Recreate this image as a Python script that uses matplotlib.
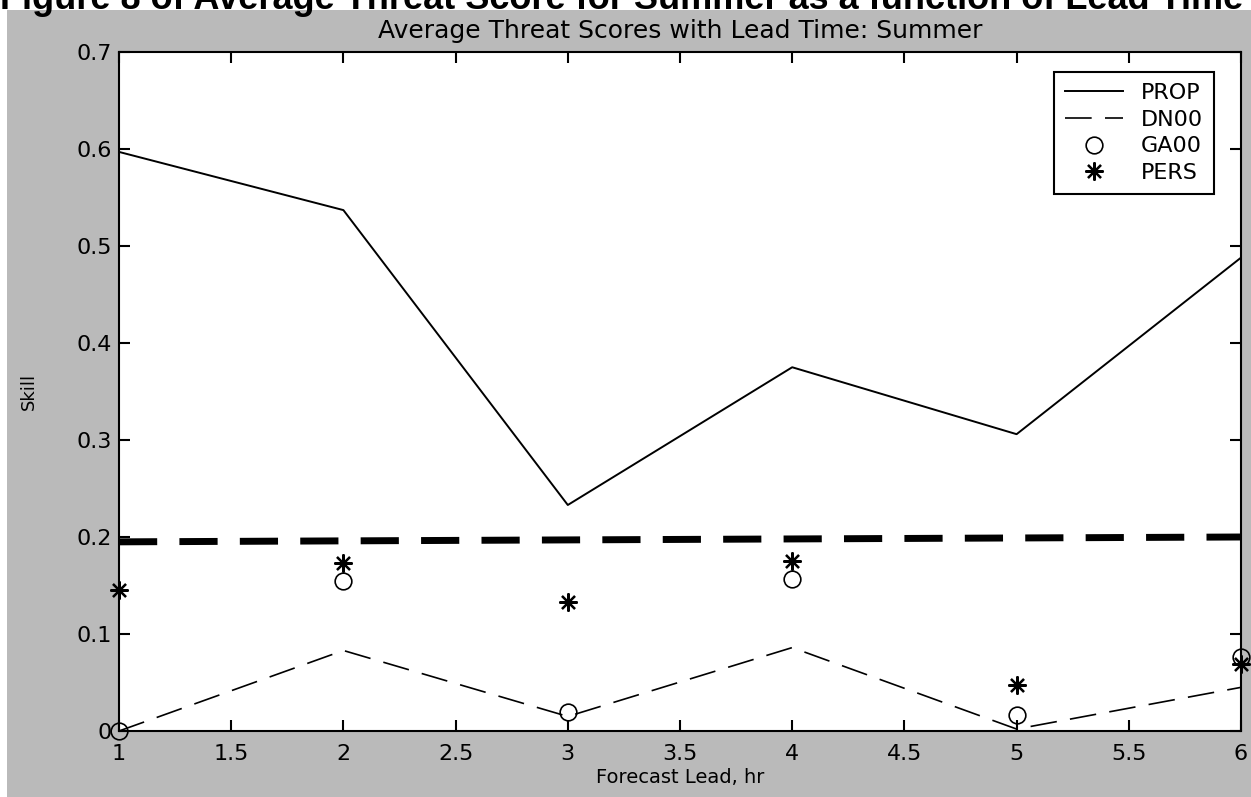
import numpy as np
import matplotlib
matplotlib.use("Agg")
import matplotlib.pyplot as plt
from matplotlib.patches import Rectangle

# forecast lead (hr)
lead = [1, 2, 3, 4, 5, 6]

# average threat scores
prop = [0.597, 0.537, 0.233, 0.375, 0.306, 0.488]
dn00 = [0.000, 0.083, 0.015, 0.086, 0.002, 0.045]
ga00 = [0.000, 0.155, 0.020, 0.157, 0.016, 0.076]
pers = [0.145, 0.173, 0.133, 0.175, 0.047, 0.069]
base = [0.195, 0.196, 0.197, 0.198, 0.199, 0.200]   # thick dashed reference

xticks = [1, 1.5, 2, 2.5, 3, 3.5, 4, 4.5, 5, 5.5, 6]
xtick_labels = ["1", "1.5", "2", "2.5", "3", "3.5", "4", "4.5", "5", "5.5", "6"]
yticks = [0, 0.1, 0.2, 0.3, 0.4, 0.5, 0.6, 0.7]
ytick_labels = ["0", "0.1", "0.2", "0.3", "0.4", "0.5", "0.6", "0.7"]

W, H = 1251, 797
fig = plt.figure(figsize=(W / 100, H / 100), dpi=100, facecolor="white")

# grey scanned page background
fig.patches.append(Rectangle((7 / W, 0), 1, 1 - 10 / H, transform=fig.transFigure,
                             facecolor="#bababa", edgecolor="none", zorder=-10))

# caption cut off at the very top of the scan
fig.text(0.0, 1 - 9 / H, "Figure 8 of Average Threat Score for Summer as a function of Lead Time",
         fontsize=26, fontweight="bold", family="Liberation Sans", va="baseline", ha="left")

ax = fig.add_axes([119 / W, 1 - 731 / H, (1241 - 119) / W, (731 - 52) / H])
ax.set_facecolor("white")

ax.plot(lead, prop, color="black", lw=1.4, label="PROP")
ax.plot(lead, dn00, color="black", lw=1.2, dashes=(16, 8), label="DN00")
ax.plot(lead, ga00, ls="none", marker="o", ms=12, mfc="none", mec="black", mew=1.2,
        clip_on=False, label="GA00")
ax.plot(lead, pers, ls="none", marker=(8, 2, 0), ms=13, mec="black", mew=1.6,
        clip_on=False, label="PERS")
ax.plot(lead, base, color="black", lw=5, dashes=(5.5, 3.2))

ax.set_xlim(1, 6)
ax.set_ylim(0, 0.7)
ax.set_xticks(xticks)
ax.set_xticklabels(xtick_labels)
ax.set_yticks(yticks)
ax.set_yticklabels(ytick_labels)
ax.tick_params(direction="in", length=8, width=1.5, top=True, right=True, labelsize=16)
ax.tick_params(axis="x", pad=9)
ax.tick_params(axis="y", pad=5)
for s in ax.spines.values():
    s.set_linewidth(1.5)

ax.set_title("Average Threat Scores with Lead Time: Summer", fontsize=18, pad=10)
ax.set_xlabel("Forecast Lead, hr", fontsize=14, labelpad=3)
ax.set_ylabel("Skill", fontsize=13, labelpad=28)

leg = ax.legend(loc="upper right", bbox_to_anchor=(0.986, 0.987), fontsize=16,
                handlelength=2.6, labelspacing=0.3, borderpad=0.5, fancybox=False,
                framealpha=1, edgecolor="black")
leg.get_frame().set_linewidth(1.5)

fig.savefig("out.png", dpi=100)
